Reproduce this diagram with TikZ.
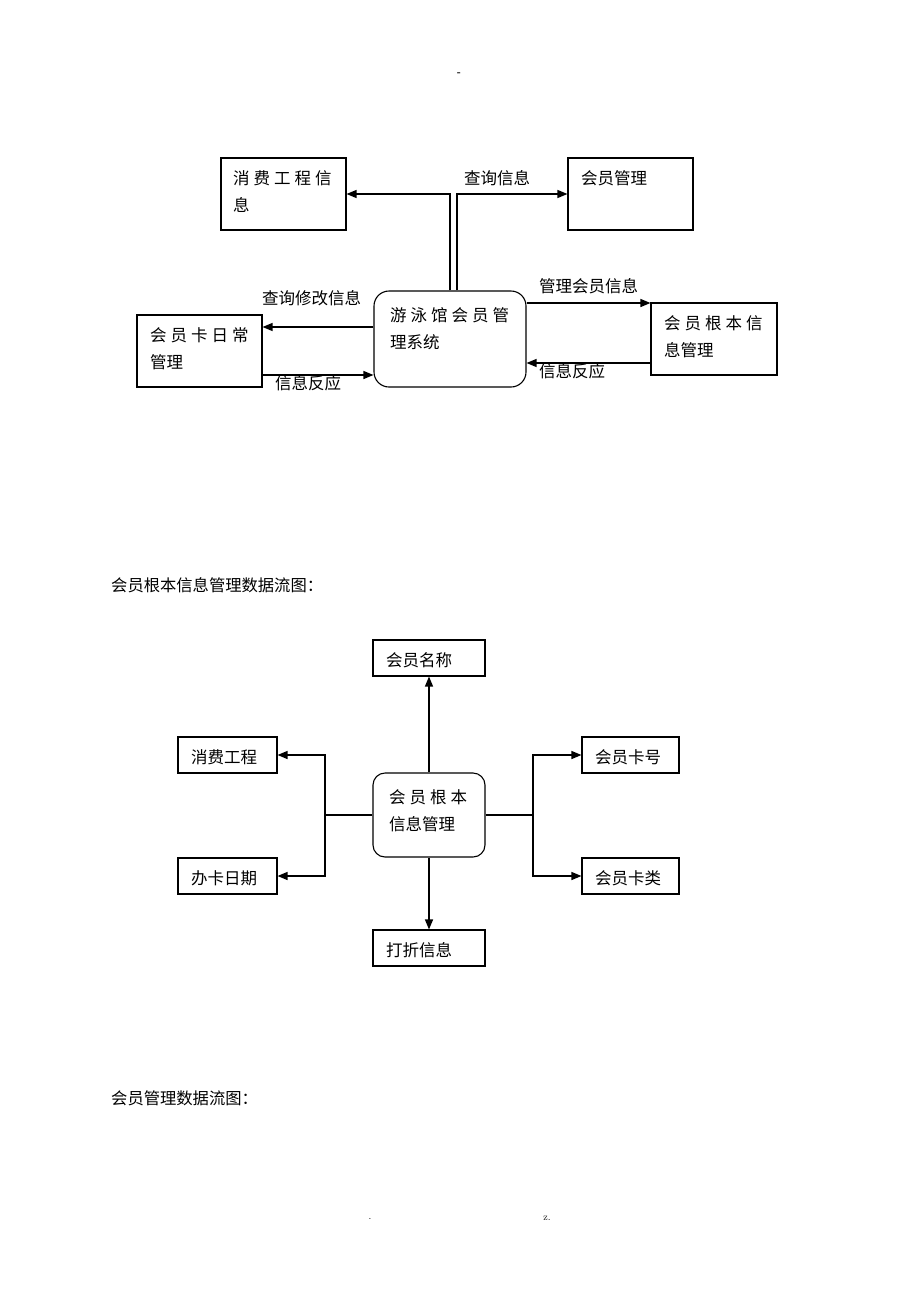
\documentclass[tikz,border=0pt]{standalone}
\usepackage{fontspec}
\newfontfamily\cjk{Noto Sans CJK SC}
\usetikzlibrary{arrows.meta,calc}
\newcommand\gp{\hspace{4pt}}
\begin{document}
\begin{tikzpicture}[x=1pt,y=-1pt,
  box/.style={draw, line width=1.1pt, inner sep=0pt},
  rbox/.style={draw, line width=1.1pt, inner sep=0pt, rounded corners=15pt},
  txt/.style={anchor=west, inner sep=0pt, font=\cjk\fontsize{16.5}{20}\selectfont},
  head/.style={anchor=west, inner sep=0pt, font=\cjk\fontsize{16.3}{19}\selectfont},
  arr/.style={line width=1.3pt, -{Triangle[length=10pt,width=8pt]}},
  ln/.style={line width=1.3pt}]
\useasboundingbox (0,0) rectangle (920,1302);
% page marks
\node[inner sep=0pt, font=\bfseries] (tm) at (459,74) {-};
\node[inner sep=0pt, font=\normalsize] (fm1) at (370,1219) {.};
\node[inner sep=0pt, font=\normalsize] (fm2) at (547,1218) {z.};

% ---------- top diagram ----------
\node[box, minimum width=125pt, minimum height=72pt] (xf) at (283.5,194) {};
\node[box, minimum width=125pt, minimum height=72pt] (hg) at (630.5,194) {};
\node[box, minimum width=125pt, minimum height=72pt] (kr) at (199.5,351) {};
\node[rbox, minimum width=152pt, minimum height=96pt] (sys) at (450,339) {};
\node[box, minimum width=126pt, minimum height=72pt] (gb) at (714,339) {};

\node[txt] (xft1) at (233,178) {消\gp 费\gp 工\gp 程\gp 信};
\node[txt] (xft2) at (233,205) {息};
\node[txt] (hgt) at (581,178) {会员管理};
\node[txt] (krt1) at (150,335) {会\gp 员\gp 卡\gp 日\gp 常};
\node[txt] (krt2) at (150,362) {管理};
\node[txt] (syst1) at (390,315) {游\gp 泳\gp 馆\gp 会\gp 员\gp 管};
\node[txt] (syst2) at (390,342) {理系统};
\node[txt] (gbt1) at (664,323) {会\gp 员\gp 根\gp 本\gp 信};
\node[txt] (gbt2) at (664,350) {息管理};

\coordinate (s1) at ([xshift=7pt]sys.north);
\draw[arr] (sys.north) |- (xf.east);
\draw[arr] (s1) |- (hg.west);

\coordinate (y327) at (0,327);
\coordinate (y375) at (0,375);
\coordinate (y303) at (0,303);
\coordinate (y363) at (0,363);
\draw[arr] (sys.west |- y327) -- (kr.east |- y327);
\draw[arr] (kr.east |- y375) -- (sys.west |- y375);
\draw[arr] (sys.east |- y303) -- (gb.west |- y303);
\draw[arr] (gb.west |- y363) -- (sys.east |- y363);

\node[txt] (l1) at (464,178) {查询信息};
\node[txt] (l2) at (262,298) {查询修改信息};
\node[txt] (l3) at (275,383) {信息反应};
\node[txt] (l4) at (539,286) {管理会员信息};
\node[txt] (l5) at (539,371) {信息反应};

% ---------- heading 1 ----------
\node[head] (h1) at (111,585) {会员根本信息管理数据流图：};

% ---------- middle diagram ----------
\node[box, minimum width=112pt, minimum height=36pt] (mc) at (429,658) {};
\node[box, minimum width=99pt, minimum height=36pt] (xf2) at (227.5,755) {};
\node[box, minimum width=99pt, minimum height=36pt] (bk) at (227.5,876) {};
\node[rbox, rounded corners=12pt, minimum width=112pt, minimum height=84pt] (core) at (429,815) {};
\node[box, minimum width=97pt, minimum height=36pt] (kh) at (630.5,755) {};
\node[box, minimum width=97pt, minimum height=36pt] (kl) at (630.5,876) {};
\node[box, minimum width=112pt, minimum height=36pt] (dz) at (429,948) {};

\node[txt] (mct) at (386,660) {会员名称};
\node[txt] (xf2t) at (191,757) {消费工程};
\node[txt] (bkt) at (191,878) {办卡日期};
\node[txt] (coret1) at (389,797) {会\gp 员\gp 根\gp 本};
\node[txt] (coret2) at (389,824) {信息管理};
\node[txt] (kht) at (595,757) {会员卡号};
\node[txt] (klt) at (595,878) {会员卡类};
\node[txt] (dzt) at (386,950) {打折信息};

\draw[arr] (core.north) -- (mc.south);
\draw[arr] (core.south) -- (dz.north);
\coordinate (jl) at (325,815);
\coordinate (jr) at (533,815);
\draw[ln] (core.west) -- (jl);
\draw[arr] (jl) |- (xf2.east);
\draw[arr] (jl) |- (bk.east);
\draw[ln] (core.east) -- (jr);
\draw[arr] (jr) |- (kh.west);
\draw[arr] (jr) |- (kl.west);

% ---------- heading 2 ----------
\node[head] (h2) at (111,1098) {会员管理数据流图：};
\end{tikzpicture}
\end{document}
